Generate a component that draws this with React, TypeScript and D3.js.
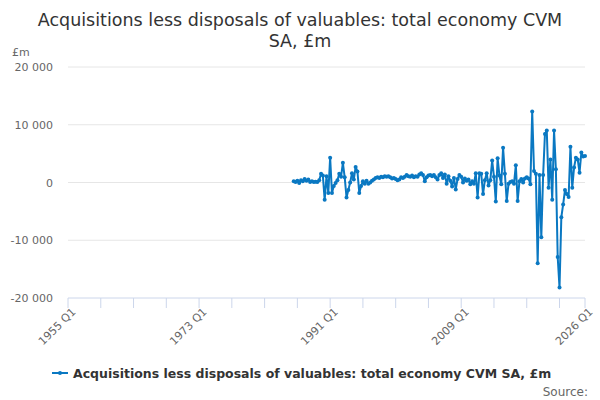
import React, { useRef, useEffect } from 'react';
import * as d3 from 'd3';

// Quarterly categories on the x axis: 1955 Q1 .. 2026 Q1
const categories: string[] = d3
  .range(1955, 2027)
  .flatMap(y => [1, 2, 3, 4].map(q => `${y} Q${q}`))
  .slice(0, 285);

const tickLabels = ['1955 Q1', '1973 Q1', '1991 Q1', '2009 Q1', '2026 Q1'];
const yTicks = [-20000, -10000, 0, 10000, 20000];

const firstQuarter = '1986 Q1';

// £m values
const values1986to1989 = [200, 100, 300, -100, 400, 200, 600, 300, 500, 100, 200, 100, 150, 100];
const values1989to1996 = [
  400, 1500, 1200, -3000, 1100, -1800, 4300, -1800, -600, -100, 400, 1500, 1000, 3400,
  900, -2600, -1300, 0, 1600, 500, 2700, 1900, -1800, -600, 200, -200, 300,
];
const values1996to2008 = [
  -200, 0, 300, 500, 800, 900, 800, 1000, 900, 1100, 1000, 1100, 900, 700, 800, 600, 400,
  500, 900, 800, 1000, 1300, 1100, 1000, 1200, 900, 1100, 1000, 1400, 1600, 1300, 200, 900,
  1200, 1300, 1100, 1300, 900, 500, 1300, 1600, 800, 1400, -200, 1100, 300, -700, 800,
  -1200, 600, 1300,
];
const values2009to2018 = [
  1000, 0, 700, 300, 500, -300, 200, -200, 1600, -2600, 1600, 1500, -2000, 400, 1600, -500,
  400, 3800, 1000, -3300, 4200, 1200, -300, 6000, 1500, -3200, -200, 100, 200, -200, 3000,
  -3200, 200, 600, 0, 700, 900, 700,
];
const values2018to2026 = [
  -300, 12300, 2000, 1500, -14000, 1300, -9500, 1300, 8400, 9000, -900, 4000, -3000, 9000,
  2300, -12900, -18200, -6000, -3800, -1300, -2000, -2500, 6200, -900, 2600, 4300, 4000,
  1700, 5200, 4500, 4600,
];

const seriesValues = [
  ...values1986to1989,
  ...values1989to1996,
  ...values1996to2008,
  ...values2009to2018,
  ...values2018to2026,
];

const SERIES_NAME = 'Acquisitions less disposals of valuables: total economy CVM SA, £m';
const LINE_COLOR = '#0a78c2';
const FONT = '"DejaVu Sans", sans-serif';

export default function App() {
  const svgRef = useRef<SVGSVGElement>(null);
  const width = 600;
  const height = 400;

  useEffect(() => {
    const svg = d3.select(svgRef.current);
    svg.selectAll('*').remove();

    const x = d3.scaleLinear().domain([0, categories.length - 1]).range([68, 585]);
    const y = d3.scaleLinear().domain([-20000, 20000]).range([298, 67]);

    const fmt = d3.formatLocale({
      decimal: '.',
      thousands: ' ',
      grouping: [3],
      currency: ['', ''],
      minus: '-',
    }).format(',');

    // Title
    const title = svg.append('text')
      .attr('x', 300)
      .attr('text-anchor', 'middle')
      .style('font-family', FONT)
      .style('font-size', '17.5px')
      .style('fill', '#333333');
    title.append('tspan').attr('x', 300).attr('y', 26)
      .text('Acquisitions less disposals of valuables: total economy CVM');
    title.append('tspan').attr('x', 300).attr('y', 47).text('SA, £m');

    // Units label
    svg.append('text')
      .attr('x', 12)
      .attr('y', 56)
      .style('font-family', FONT)
      .style('font-size', '11px')
      .style('fill', '#666666')
      .text('£m');

    // Grid lines + y labels
    yTicks.forEach(t => {
      if (t !== -20000) {
        svg.append('line')
          .attr('x1', 68).attr('x2', 585)
          .attr('y1', y(t)).attr('y2', y(t))
          .attr('stroke', '#e6e6e6')
          .attr('stroke-width', 1);
      }
      svg.append('text')
        .attr('x', 53)
        .attr('y', y(t) + 4)
        .attr('text-anchor', 'end')
        .style('font-family', FONT)
        .style('font-size', '11px')
        .style('fill', '#666666')
        .text(fmt(t));
    });

    // X axis line and ticks
    svg.append('line')
      .attr('x1', 68).attr('x2', 585)
      .attr('y1', y(-20000)).attr('y2', y(-20000))
      .attr('stroke', '#ccd6eb');

    const tickIdx = d3.range(0, categories.length - 1, 18).concat([categories.length - 1]);
    tickIdx.forEach(i => {
      svg.append('line')
        .attr('x1', x(i)).attr('x2', x(i))
        .attr('y1', y(-20000)).attr('y2', y(-20000) + 10)
        .attr('stroke', '#ccd6eb');
    });

    tickLabels.forEach(label => {
      const i = categories.indexOf(label);
      svg.append('text')
        .attr('transform', `translate(${x(i) + 3},${y(-20000) + 9}) rotate(-45)`)
        .attr('text-anchor', 'end')
        .attr('dy', '0.7em')
        .style('font-family', FONT)
        .style('font-size', '11px')
        .style('fill', '#666666')
        .text(label);
    });

    // Series
    const start = categories.indexOf(firstQuarter);
    const points = seriesValues.map((v, k) => ({ i: start + k, v }));

    const line = d3.line<{ i: number; v: number }>()
      .x(d => x(d.i))
      .y(d => y(d.v));

    svg.append('path')
      .datum(points)
      .attr('d', line)
      .attr('fill', 'none')
      .attr('stroke', LINE_COLOR)
      .attr('stroke-width', 2)
      .attr('stroke-linejoin', 'round');

    svg.append('g')
      .selectAll('circle')
      .data(points)
      .enter()
      .append('circle')
      .attr('cx', d => x(d.i))
      .attr('cy', d => y(d.v))
      .attr('r', 2)
      .attr('fill', LINE_COLOR);

    // Legend
    const legend = svg.append('g').attr('transform', 'translate(52,373)');
    legend.append('line')
      .attr('x1', 0).attr('x2', 16)
      .attr('y1', 0).attr('y2', 0)
      .attr('stroke', LINE_COLOR)
      .attr('stroke-width', 2);
    legend.append('circle').attr('cx', 8).attr('cy', 0).attr('r', 2).attr('fill', LINE_COLOR);
    legend.append('text')
      .attr('x', 21)
      .attr('y', 4.5)
      .style('font-family', FONT)
      .style('font-size', '12.5px')
      .style('font-weight', 'bold')
      .style('fill', '#333333')
      .text(SERIES_NAME);

    // Source
    svg.append('text')
      .attr('x', 588)
      .attr('y', 396)
      .attr('text-anchor', 'end')
      .style('font-family', FONT)
      .style('font-size', '12px')
      .style('fill', '#666666')
      .text('Source:');
  }, []);

  return (
    <svg
      ref={svgRef}
      width={width}
      height={height}
      style={{ position: 'absolute', left: 0, top: 0, background: '#ffffff' }}
    />
  );
}
